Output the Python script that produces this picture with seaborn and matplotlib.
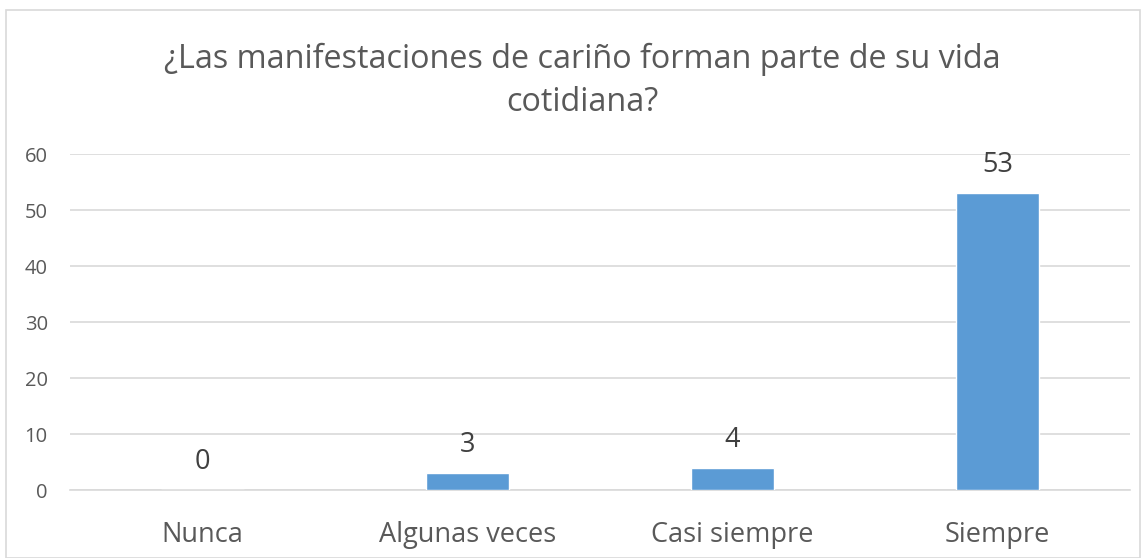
import matplotlib
matplotlib.use("Agg")
import matplotlib.pyplot as plt
import seaborn as sns
import pandas as pd
from matplotlib.patches import Rectangle

categories = ["Nunca", "Algunas veces", "Casi siempre", "Siempre"]
values = [0, 3, 4, 53]
yticks = [0, 10, 20, 30, 40, 50, 60]
title = "¿Las manifestaciones de cariño forman parte de su vida\ncotidiana?"

sns.set_theme(style="white")
plt.rcParams['font.family'] = ['Open Sans', 'DejaVu Sans']

df = pd.DataFrame({"cat": categories, "val": values})

fig = plt.figure(figsize=(11.47, 5.58), dpi=100)
ax = fig.add_axes([70/1147, 1-490/558, 1060/1147, 336/558])

sns.barplot(data=df, x="cat", y="val", color="#5b9bd5", width=0.31,
            saturation=1, ax=ax, zorder=3)

ax.set_ylim(0, 60)
ax.set_xlim(-0.5, 3.5)
ax.set_yticks(yticks)
ax.yaxis.grid(True, color="#d9d9d9", linewidth=1.2, zorder=0)
ax.set_axisbelow(True)
for s in ["top", "right", "left"]:
    ax.spines[s].set_visible(False)
ax.spines["bottom"].set_color("#d9d9d9")
ax.spines["bottom"].set_linewidth(1.2)
ax.set_xlabel("")
ax.set_ylabel("")
ax.tick_params(axis="y", length=0, labelsize=14.5, labelcolor="#595959", pad=16)
ax.tick_params(axis="x", which="major", length=0, labelsize=19.5, labelcolor="#595959", pad=22)
ax.set_xticks([-0.5, 0.5, 1.5, 2.5, 3.5], minor=True)
ax.tick_params(axis="x", which="minor", length=6, color="#d9d9d9", width=1.2)

for i, v in enumerate(values):
    ax.annotate(str(v), (i, v), xytext=(0, 10), textcoords="offset points",
                ha="center", va="bottom", fontsize=19.5, color="#404040")

fig.text(582/1147, 1-81/558, title, ha="center", va="center", fontsize=23.3,
         color="#595959", linespacing=1.4)

fig.patches.append(Rectangle((6/1147, 0), 1134/1147, 1-10/558, transform=fig.transFigure,
                             fill=False, edgecolor="#d9d9d9", linewidth=1.2))

fig.savefig("out.png", dpi=100)
